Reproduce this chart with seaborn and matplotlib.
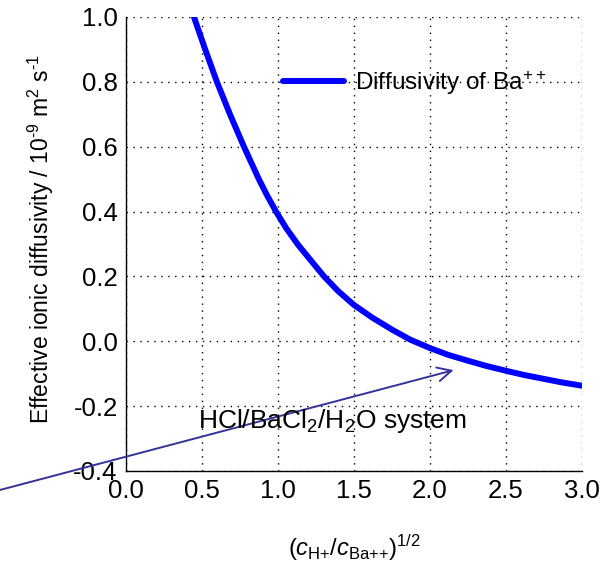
import matplotlib
matplotlib.use("Agg")
import matplotlib.pyplot as plt
import seaborn as sns
import pandas as pd
from matplotlib.ticker import MultipleLocator

# Data
ratio_sqrt = [0.447, 0.521, 0.598, 0.684, 0.776, 0.874, 0.928, 0.987, 1.055, 1.133,
              1.215, 1.303, 1.395, 1.50, 1.62, 1.75, 1.87, 2.00, 2.12, 2.25, 2.37,
              2.50, 2.62, 2.75, 2.87, 3.00]
diffusivity = [1.00, 0.90, 0.80, 0.70, 0.60, 0.50, 0.45, 0.40, 0.348, 0.297,
               0.25, 0.20, 0.155, 0.112, 0.073, 0.036, 0.005, -0.021, -0.042, -0.06,
               -0.076, -0.091, -0.104, -0.116, -0.127, -0.137]
series_label = "Diffusivity of Ba$^{++}$"
x_ticks = [0.0, 0.5, 1.0, 1.5, 2.0, 2.5, 3.0]
y_ticks = [-0.4, -0.2, 0.0, 0.2, 0.4, 0.6, 0.8, 1.0]
arrow_tail = (-0.833, -0.459)
arrow_head = (2.155, -0.089)

sns.set_theme(style="white")
plt.rcParams['font.family'] = ['Liberation Sans', 'DejaVu Sans']
plt.rcParams['mathtext.fontset'] = 'custom'
plt.rcParams['mathtext.rm'] = 'Liberation Sans'
plt.rcParams['mathtext.it'] = 'Liberation Sans:italic'
plt.rcParams['mathtext.bf'] = 'Liberation Sans:bold'

df = pd.DataFrame({"x": ratio_sqrt, "y": diffusivity})

fig = plt.figure(figsize=(6.16, 5.69), dpi=100)
ax = fig.add_axes([126/616, 1 - 471/569, 456/616, 454/569])

sns.lineplot(data=df, x="x", y="y", ax=ax, color="#0000ff", linewidth=4.3,
             label=series_label, solid_capstyle="round", solid_joinstyle="round",
             sort=False)

ax.set_xlim(0, 3.0)
ax.set_ylim(-0.4, 1.0)
ax.set_xticks(x_ticks)
ax.set_yticks(y_ticks)
ax.set_xticklabels([f"{v:.1f}" for v in x_ticks])
ax.set_yticklabels([f"{v:.1f}" for v in y_ticks])
ax.xaxis.set_minor_locator(MultipleLocator(0.1))
ax.yaxis.set_minor_locator(MultipleLocator(0.04))

for s in ["top", "right"]:
    ax.spines[s].set_visible(False)
for s in ["left", "bottom"]:
    ax.spines[s].set_color("black")
    ax.spines[s].set_linewidth(1.0)

ax.tick_params(axis="both", which="both", direction="in", color="black",
               width=1.0, length=7, labelsize=18.5, labelcolor="black")
ax.tick_params(axis="both", which="major", pad=6)

ax.grid(True, which="major", linestyle=(0, (1, 4)), color="black", linewidth=1.0)
ax.set_axisbelow(True)

ax.set_xlabel(r"$(\mathit{c}_{\mathrm{H{+}}}/\mathit{c}_{\mathrm{Ba{+}{+}}})^{1/2}$",
              fontsize=17, color="black")
ax.xaxis.set_label_coords(0.5, -0.17)
ax.xaxis.label.set_va("center")
ax.set_ylabel(r"Effective ionic diffusivity / 10$^{\text{-9}}$ m$^2$ s$^{\text{-1}}$",
              fontsize=16.5, color="black")
ax.yaxis.set_label_coords(-0.186, 0.51)
ax.yaxis.label.set_va("center")

leg = ax.legend(loc="center left", bbox_to_anchor=(0.344, 0.855), frameon=False,
                fontsize=17.5, handlelength=2.5, handletextpad=0.45,
                borderpad=0, borderaxespad=0)
for t in leg.get_texts():
    t.set_color("black")

ax.annotate("", xy=arrow_head, xytext=arrow_tail, xycoords="data", textcoords="data",
            arrowprops=dict(arrowstyle="->", color="#333399", lw=1.4,
                            mutation_scale=25, shrinkA=0, shrinkB=0),
            annotation_clip=False)
ax.text(0.476, -0.246, r"HCl/BaCl$_2$/H$_2$O system", fontsize=19,
        color="black", va="center", ha="left")

fig.savefig("out.png", dpi=100)
